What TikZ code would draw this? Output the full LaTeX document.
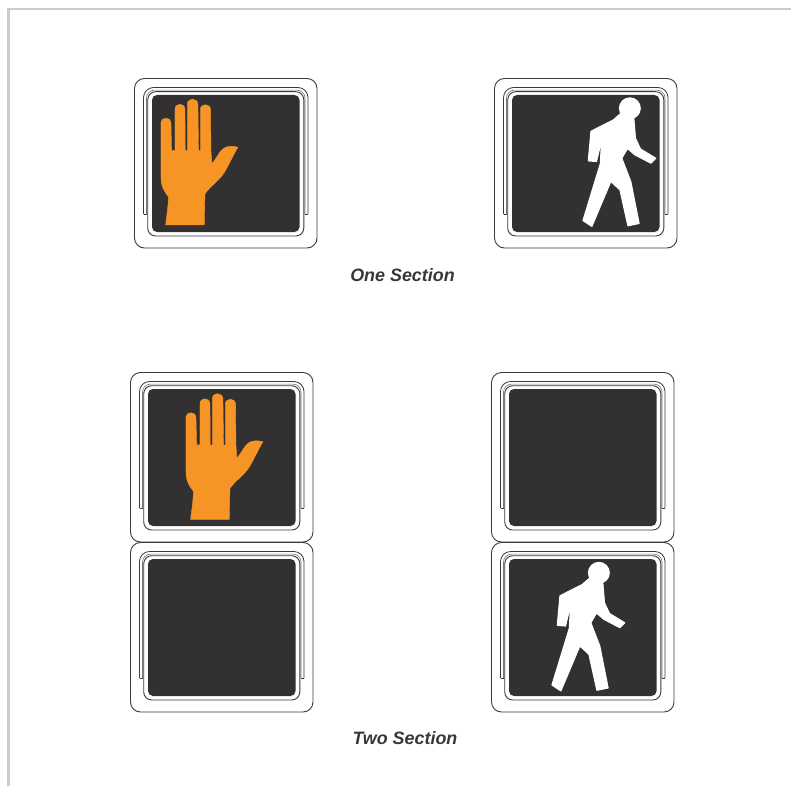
\documentclass[tikz,border=0pt]{standalone}
\usepackage{fontspec}
\setmainfont{Liberation Sans}
\definecolor{panel}{HTML}{323031}
\definecolor{handc}{HTML}{F79426}
\definecolor{framec}{HTML}{CCCCCC}
\definecolor{edge}{HTML}{3A3A3A}
\definecolor{labelc}{HTML}{383838}
\tikzset{
  rim/.style={draw=edge,line width=0.9pt,fill=white},
  rimline/.style={draw=edge,line width=0.8pt},
  rimthin/.style={draw=edge!70,line width=0.6pt},
  face/.style={fill=panel,rounded corners=5},
  caption/.style={font=\bfseries\itshape\fontsize{17.9}{20}\selectfont,text=labelc,inner sep=0pt},
  handshape/.style={fill=handc,draw=handc,line width=0.4pt,line join=round},
  walkshape/.style={fill=white,draw=white,line width=1pt,line join=round}
}
% one signal housing, origin at top left of the outer rim
\newcommand{\housing}[2]{%
  \begin{scope}[shift={(#1,#2)}]
    \draw[rim,rounded corners=10] (0,0) rectangle (182.5,169.5);
    \draw[rimline,rounded corners=10] (9,135.5) -- (9,9) -- (173.5,9) -- (173.5,135.5);
    \draw[rimline] (9,135.5) -- (12.5,135.5) (173.5,135.5) -- (170,135.5);
    \draw[rimthin,rounded corners=8] (12,135.5) -- (12,11.6) -- (170.5,11.6) -- (170.5,135.5);
    \draw[rim,rounded corners=8] (13.2,13.2) rectangle (169.3,157.5);
    \fill[face] (17.5,16.5) rectangle (165,153.5);
  \end{scope}}
% hand and walker are drawn in 3x crop coordinates
\newcommand{\handfig}[2]{%
  \begin{scope}[shift={(#1,#2)},x=0.333pt,y=-0.333pt]
    \path[handshape] (122,465) .. controls (126,430) and (131,400) .. (130,380)
      .. controls (118,365) and (108,350) .. (108,320) -- (108,157)
      .. controls (108,141) and (138,141) .. (138,157) -- (140,241) -- (150,241) -- (150,118)
      .. controls (150,98) and (180,98) .. (180,118) -- (181,242) -- (187,242) -- (187,104)
      .. controls (187,82) and (219,82) .. (219,104) -- (221,242) -- (226,242) -- (226,120)
      .. controls (226,99) and (257,99) .. (257,120) -- (258,240) -- (261,282)
      .. controls (275,265) and (283,245) .. (295,236)
      .. controls (308,227) and (325,228) .. (339,232)
      .. controls (325,255) and (312,285) .. (298,308)
      .. controls (285,330) and (255,350) .. (240,372) -- (238,465) -- cycle;
  \end{scope}}
\newcommand{\walkfig}[2]{%
  \begin{scope}[shift={(#1,#2)},x=0.333pt,y=-0.333pt]
    \fill[white] (435,115) circle[radius=33];
    \path[walkshape] (408,130) -- (385,150) -- (318,184) -- (310,273) -- (335,275)
      -- (350,212) -- (346,282) -- (294,452) -- (321,470) -- (378,335) -- (405,360)
      -- (429,468) -- (463,461) -- (438,335) -- (411,265) -- (428,236)
      -- (450,255) -- (498,280) -- (513,265) -- (467,237) -- (452,205) -- (447,145) -- cycle;
  \end{scope}}
\begin{document}
\begin{tikzpicture}[x=1pt,y=-1pt]
  \useasboundingbox (0,0) rectangle (791,786);
  \fill[white] (0,0) rectangle (791,786);
  \draw[framec,line width=2.4pt] (8.5,786) -- (8.5,9) -- (791,9);
  \housing{134.5}{78.5}
  \housing{494.5}{78.5}
  \housing{130.5}{372.5}
  \housing{130.5}{542.5}
  \housing{491.5}{372.5}
  \housing{491.5}{542.5}
  \handfig{125}{70}
  \handfig{150}{364.5}
  \walkfig{485}{70}
  \walkfig{454}{534.5}
  \node[caption] (one) at (402.5,275) {One Section};
  \node[caption] (two) at (405,738) {Two Section};
\end{tikzpicture}
\end{document}
